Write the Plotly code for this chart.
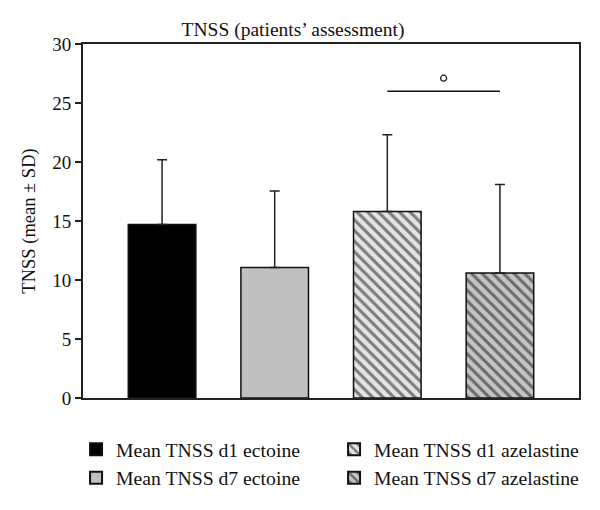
import plotly.graph_objects as go

categories = ["Mean TNSS d1 ectoine", "Mean TNSS d7 ectoine",
              "Mean TNSS d1 azelastine", "Mean TNSS d7 azelastine"]
means = [14.7, 11.05, 15.8, 10.6]
sds = [5.5, 6.5, 6.5, 7.5]
fills = ["#000000", "#c0c0c0", "#e4e4e4", "#c4c4c4"]
hatch = ["", "", "\\", "\\"]
legend_rank = [1, 3, 2, 4]
sig_x = [2, 3]
sig_y = 26
sig_mark_y = 27.1
y_ticks = [0, 5, 10, 15, 20, 25, 30]

FONT = "Liberation Serif"

fig = go.Figure()
for i, name in enumerate(categories):
    fig.add_trace(go.Bar(
        x=[i], y=[means[i]], name=name, width=0.6,
        marker=dict(color=fills[i], line=dict(color="#111111", width=1.5),
                    pattern=dict(shape=hatch[i], fgcolor="#111111",
                                 bgcolor=fills[i], size=7.5, solidity=0.4,
                                 fillmode="overlay")),
        error_y=dict(type="data", symmetric=False, array=[sds[i]],
                     arrayminus=[0], color="#222222", thickness=1.5, width=5),
        legendrank=legend_rank[i],
    ))

fig.add_trace(go.Scatter(x=sig_x, y=[sig_y, sig_y], mode="lines",
                         line=dict(color="#111111", width=1.5),
                         showlegend=False, hoverinfo="skip"))
fig.add_trace(go.Scatter(x=[sum(sig_x) / 2], y=[sig_mark_y], mode="markers",
                         marker=dict(symbol="circle-open", size=6,
                                     color="#111111", line=dict(width=1.2)),
                         showlegend=False, hoverinfo="skip"))

fig.update_layout(
    width=600, height=510,
    margin=dict(l=83, r=21, t=44, b=108),
    paper_bgcolor="white", plot_bgcolor="white",
    barmode="overlay",
    font=dict(family=FONT, size=18, color="#111111"),
    title=dict(text="TNSS (patients’ assessment)", x=293 / 600, xanchor="center",
               y=1 - 29 / 510, yanchor="middle", automargin=False,
               font=dict(family=FONT, size=19.5, color="#111111")),
    xaxis=dict(range=[-0.702, 3.702], showticklabels=False, ticks="",
               showgrid=False, zeroline=False, showline=True, mirror=True,
               linecolor="#222222", linewidth=2, automargin=False),
    yaxis=dict(range=[0, 30], tickvals=y_ticks, ticks="outside", ticklen=6,
               tickwidth=1.5, tickcolor="#222222", showgrid=False,
               zeroline=False, showline=True, mirror=True,
               linecolor="#222222", linewidth=2, automargin=False,
               title=dict(text="TNSS (mean ± SD)", standoff=12,
                          font=dict(family=FONT, size=18.5)),
               tickfont=dict(family=FONT, size=19)),
    legend=dict(orientation="h", x=-0.014, xanchor="left", y=-0.09,
                yanchor="top", entrywidth=213, entrywidthmode="pixels",
                font=dict(family=FONT, size=19.7, color="#111111"),
                tracegroupgap=0, itemsizing="constant"),
    showlegend=True,
)

fig.write_html("out.html", config={"displayModeBar": False},
               post_script="document.body.style.margin='0';")
